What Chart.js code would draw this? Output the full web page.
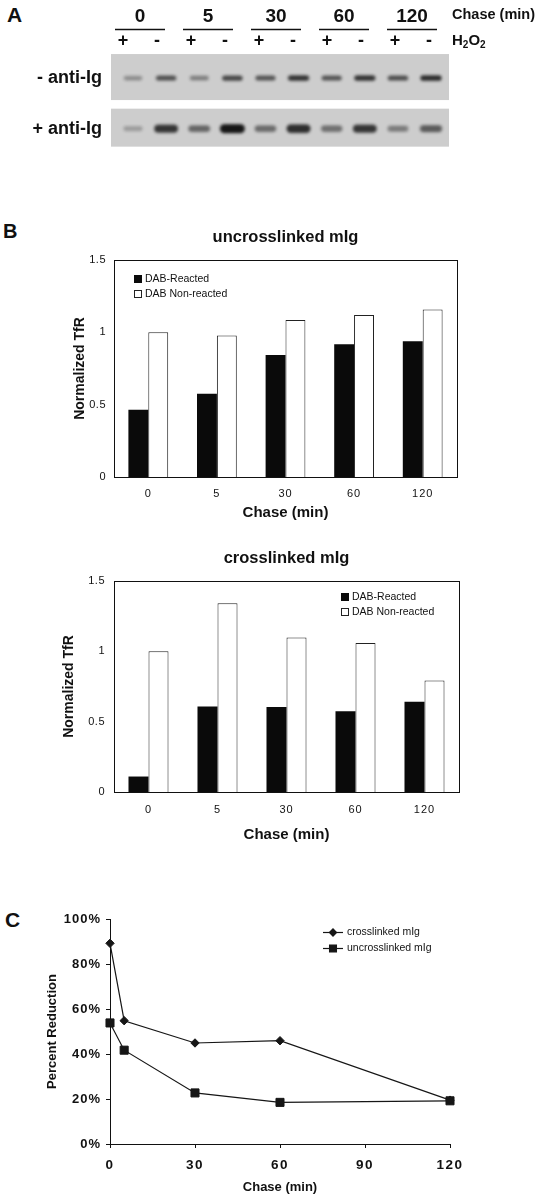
<!DOCTYPE html>
<html>
<head>
<meta charset="utf-8">
<script src="https://cdn.jsdelivr.net/npm/chart.js@4.4.1/dist/chart.umd.min.js"></script>
<style>
  html, body { margin: 0; padding: 0; background: #fff; }
  body { width: 541px; height: 1199px; position: relative; overflow: hidden;
         font-family: "Liberation Sans", Arial, sans-serif; color: #111; }
  .panel { position: absolute; left: 0; width: 541px; }
  .letter { position: absolute; font-weight: bold; line-height: 1; }
</style>
</head>
<body>
<div class="letter" style="left:7px;top:4px;font-size:21px">A</div>
<div class="letter" style="left:3px;top:221px;font-size:20px">B</div>
<div class="letter" style="left:5px;top:909px;font-size:21px">C</div>
<div class="panel" style="top:0;height:165px"><canvas id="gel"></canvas></div>
<div class="panel" style="top:215px;height:310px"><canvas id="uncross"></canvas></div>
<div class="panel" style="top:535px;height:315px"><canvas id="cross"></canvas></div>
<div class="panel" style="top:860px;height:339px"><canvas id="reduction"></canvas></div>
<script>
// --- panel A: blot lanes
const chaseGroups = ['0', '5', '30', '60', '120'];
const h2o2Signs = ['+', '-', '+', '-', '+', '-', '+', '-', '+', '-'];
const gelRows = ['- anti-Ig', '+ anti-Ig'];
const bandsMinusAntiIg = [0.3, 0.65, 0.38, 0.7, 0.62, 0.82, 0.62, 0.82, 0.66, 0.86];
const bandsPlusAntiIg = [0.18, 0.82, 0.52, 1.0, 0.48, 0.86, 0.46, 0.82, 0.38, 0.58];

// --- panel B: normalized TfR
const chaseLabels = ['0', '5', '30', '60', '120'];
const uncrossReacted = [0.465, 0.575, 0.844, 0.918, 0.939];
const uncrossNonReacted = [1.0, 0.978, 1.086, 1.12, 1.157];
const crossReacted = [0.11, 0.608, 0.605, 0.574, 0.641];
const crossNonReacted = [1.0, 1.341, 1.099, 1.059, 0.793];
const tfrTicks = [0, 0.5, 1, 1.5];

// --- panel C: percent reduction
const chaseMinutes = [0, 5, 30, 60, 120];
const reductionCross = [89.2, 54.8, 44.9, 45.9, 19.5];
const reductionUncross = [53.8, 41.7, 22.7, 18.5, 19.2];
const minuteTicks = [0, 30, 60, 90, 120];
const percentTicks = [0, 20, 40, 60, 80, 100];

const INK = '#111';
const FONT = '"Liberation Sans", Arial, sans-serif';

Chart.defaults.font.family = FONT;
Chart.defaults.color = INK;
Chart.defaults.animation = false;
Chart.defaults.plugins.legend.display = false;
Chart.defaults.plugins.tooltip.enabled = false;

// scales whose tick labels can be letter-spaced
function spacedScale(Base, id) {
  class Spaced extends Base {
    drawLabels(area) {
      const ls = this.options.ticks.letterSpacing;
      this.ctx.save();
      if (ls) this.ctx.letterSpacing = ls;
      super.drawLabels(area);
      this.ctx.restore();
    }
  }
  Spaced.id = id;
  Spaced.defaults = Base.defaults;
  Chart.register(Spaced);
}
spacedScale(Chart.LinearScale, 'spacedLinear');
spacedScale(Chart.CategoryScale, 'spacedCategory');

const fixedTicks = list => scale => { scale.ticks = list.map(v => ({ value: v })); };

// ---------- A: blot ----------
const bandCache = {};
function bandImage(d, row) {
  const key = d + '_' + row;
  if (bandCache[key]) return bandCache[key];
  const w = row ? 18 + 7 * d : 17 + 5 * d;
  const h = row ? 4 + 5 * d : 3.5 + 2.5 * d;
  const c = document.createElement('canvas');
  c.width = Math.ceil(w + 12);
  c.height = Math.ceil(h + 12);
  const g = c.getContext('2d');
  g.filter = 'blur(1.5px)';
  g.fillStyle = 'rgba(12,12,12,' + (0.1 + 0.85 * d) + ')';
  g.beginPath();
  g.roundRect((c.width - w) / 2, (c.height - h) / 2, w, h, h / 2);
  g.fill();
  bandCache[key] = c;
  return c;
}

const gelBackground = {
  id: 'gelBackground',
  beforeDatasetsDraw(chart, args, opts) {
    const { ctx, chartArea, scales } = chart;
    ctx.save();
    ctx.fillStyle = opts.color;
    opts.rows.forEach((r, i) => {
      const yc = scales.y.getPixelForValue(i);
      ctx.fillRect(chartArea.left, yc - r[0], chartArea.right - chartArea.left, r[0] + r[1]);
    });
    ctx.restore();
  }
};

const gelHeader = {
  id: 'gelHeader',
  afterDraw(chart) {
    const { ctx } = chart;
    const lanes = chart.scales.lanes;
    ctx.save();
    ctx.fillStyle = INK;
    ctx.strokeStyle = INK;
    ctx.textBaseline = 'middle';
    ctx.textAlign = 'center';
    ctx.font = 'bold 19px ' + FONT;
    chaseGroups.forEach((g, i) => {
      const xc = (lanes.getPixelForValue(2 * i) + lanes.getPixelForValue(2 * i + 1)) / 2;
      ctx.fillText(g, xc, 17);
      ctx.lineWidth = 1.6;
      ctx.beginPath();
      ctx.moveTo(xc - 25, 29.5);
      ctx.lineTo(xc + 25, 29.5);
      ctx.stroke();
    });
    ctx.textAlign = 'left';
    ctx.font = 'bold 14.5px ' + FONT;
    ctx.fillText('Chase (min)', 452, 15);
    let x = 452;
    [['H', 15, 0], ['2', 10, 4], ['O', 15, 0], ['2', 10, 4]].forEach(([t, s, dy]) => {
      ctx.font = 'bold ' + s + 'px ' + FONT;
      ctx.fillText(t, x, 41 + dy);
      x += ctx.measureText(t).width;
    });
    ctx.restore();
  }
};

const laneIndex = h2o2Signs.map((_, i) => i);
new Chart(document.getElementById('gel'), {
  type: 'scatter',
  data: {
    datasets: [
      { label: gelRows[0], data: laneIndex.map(i => ({ x: i, y: 0 })),
        pointStyle: c => bandImage(bandsMinusAntiIg[c.dataIndex], 0), pointRadius: 3 },
      { label: gelRows[1], data: laneIndex.map(i => ({ x: i, y: 1 })),
        pointStyle: c => bandImage(bandsPlusAntiIg[c.dataIndex], 1), pointRadius: 3 }
    ]
  },
  options: {
    responsive: true,
    maintainAspectRatio: false,
    layout: { padding: { top: 0, left: 0, right: 92, bottom: 12 } },
    plugins: { gelBackground: { color: '#cdcdcd', rows: [[24, 22], [20, 18]] } },
    scales: {
      x: { display: false, min: -0.664, max: 9.544 },
      lanes: {
        type: 'linear', position: 'top', min: -0.353, max: 9.588,
        afterBuildTicks: fixedTicks(laneIndex),
        grid: { display: false, drawTicks: false }, border: { display: false },
        ticks: { callback: v => h2o2Signs[v], font: { size: 18, weight: 'bold' }, padding: 4, autoSkip: false },
        afterFit: s => { s.height = 56; }
      },
      y: {
        min: -0.436, max: 1.327, reverse: true,
        afterBuildTicks: fixedTicks([0, 1]),
        grid: { display: false, drawTicks: false }, border: { display: false },
        ticks: { callback: v => gelRows[v], font: { size: 18, weight: 'bold' }, padding: 9 },
        afterFit: s => { s.width = 111; }
      }
    }
  },
  plugins: [gelBackground, gelHeader]
});

// ---------- B: bar charts ----------
const frame = {
  id: 'frame',
  afterDatasetsDraw(chart) {
    const { ctx, chartArea: a } = chart;
    ctx.save();
    ctx.strokeStyle = INK;
    ctx.lineWidth = 1;
    ctx.strokeRect(Math.round(a.left) + 0.5, Math.round(a.top) + 0.5,
      Math.round(a.right - a.left), Math.round(a.bottom - a.top));
    ctx.restore();
  }
};

const boxLegend = {
  id: 'boxLegend',
  afterDraw(chart, args, opts) {
    const { ctx, chartArea } = chart;
    ctx.save();
    ctx.font = '10.5px ' + FONT;
    ctx.textBaseline = 'middle';
    chart.data.datasets.forEach((ds, i) => {
      const x = Math.round(chartArea.left + opts.x);
      const y = Math.round(chartArea.top + opts.y + i * 15);
      ctx.fillStyle = ds.backgroundColor;
      ctx.fillRect(x, y - 4, 8, 8);
      if (ds.borderWidth) {
        ctx.strokeStyle = ds.borderColor;
        ctx.lineWidth = 1;
        ctx.strokeRect(x + 0.5, y - 3.5, 7, 7);
      }
      ctx.fillStyle = INK;
      ctx.fillText(ds.label, x + 11, y + 0.5);
    });
    ctx.restore();
  }
};

function tfrChart(id, title, reacted, nonReacted, L) {
  return new Chart(document.getElementById(id), {
    type: 'bar',
    data: {
      labels: chaseLabels,
      datasets: [
        { label: 'DAB-Reacted', data: reacted, backgroundColor: '#0a0a0a', borderColor: '#0a0a0a', borderWidth: 0 },
        { label: 'DAB Non-reacted', data: nonReacted, backgroundColor: '#ffffff', borderColor: '#222', borderWidth: 1 }
      ]
    },
    options: {
      responsive: true,
      maintainAspectRatio: false,
      layout: { padding: { top: 0, left: 0, right: L.right, bottom: 0 } },
      datasets: { bar: { categoryPercentage: 0.58, barPercentage: 1 } },
      plugins: {
        title: {
          display: true, text: title, fullSize: false, color: INK,
          font: { size: 16.5, weight: 'bold', lineHeight: 1.2 },
          padding: { top: L.titleTop, bottom: L.titleBottom }
        },
        boxLegend: { x: L.legX, y: L.legY }
      },
      scales: {
        x: {
          type: 'spacedCategory',
          grid: { display: false, drawTicks: false },
          border: { color: INK, width: 1 },
          ticks: { font: { size: 11 }, padding: L.xPad, letterSpacing: '1px' },
          title: { display: true, text: 'Chase (min)', font: { size: 15, weight: 'bold', lineHeight: 1.2 },
                   padding: { top: 0, bottom: L.xTitleBottom } },
          afterFit: s => { s.height = L.xHeight; }
        },
        y: {
          type: 'spacedLinear',
          min: 0, max: 1.5,
          afterBuildTicks: fixedTicks(tfrTicks),
          grid: { display: false, drawTicks: false },
          border: { color: INK, width: 1 },
          ticks: { font: { size: 11 }, padding: L.yPad, letterSpacing: '0.5px', callback: v => String(v) },
          title: { display: true, text: 'Normalized TfR', font: { size: 14, weight: 'bold', lineHeight: 1.2 },
                   padding: { top: L.yTitleLeft, bottom: 0 } },
          afterFit: s => { s.width = 114; }
        }
      }
    },
    plugins: [frame, boxLegend]
  });
}

tfrChart('uncross', 'uncrosslinked mIg', uncrossReacted, uncrossNonReacted, {
  right: 84, titleTop: 12.1, titleBottom: 13.1, xHeight: 48, xPad: 10.4, xTitleBottom: 3,
  yPad: 8, yTitleLeft: 71.6, legX: 20, legY: 19
});
tfrChart('cross', 'crosslinked mIg', crossReacted, crossNonReacted, {
  right: 82, titleTop: 13.1, titleBottom: 13.1, xHeight: 58, xPad: 11.4, xTitleBottom: 6,
  yPad: 9, yTitleLeft: 60.6, legX: 227, legY: 16
});

// ---------- C: line chart ----------
const lineLegend = {
  id: 'lineLegend',
  afterDraw(chart, args, opts) {
    const { ctx, chartArea } = chart;
    ctx.save();
    ctx.font = '10.5px ' + FONT;
    ctx.textBaseline = 'middle';
    chart.data.datasets.forEach((ds, i) => {
      const x = chartArea.left + opts.x;
      const y = Math.round(chartArea.top + opts.y + i * opts.gap) + 0.5;
      ctx.strokeStyle = ds.borderColor;
      ctx.fillStyle = ds.borderColor;
      ctx.lineWidth = ds.borderWidth;
      ctx.beginPath();
      ctx.moveTo(x, y);
      ctx.lineTo(x + 20, y);
      ctx.stroke();
      Chart.helpers.drawPoint(ctx, { pointStyle: ds.pointStyle, radius: ds.pointRadius * 0.85, borderWidth: 1 }, x + 10, y);
      ctx.fillStyle = INK;
      ctx.fillText(ds.label, x + 24, y);
    });
    ctx.restore();
  }
};

const axisC = {
  grid: { drawOnChartArea: false, drawTicks: true, tickLength: 4, color: INK, lineWidth: 1 },
  border: { color: INK, width: 1 }
};

new Chart(document.getElementById('reduction'), {
  type: 'line',
  data: {
    datasets: [
      { label: 'crosslinked mIg', data: chaseMinutes.map((m, i) => ({ x: m, y: reductionCross[i] })),
        borderColor: '#161616', backgroundColor: '#161616', borderWidth: 1.2, clip: false,
        pointStyle: 'rectRot', pointRadius: 4.2, pointBorderWidth: 1 },
      { label: 'uncrosslinked mIg', data: chaseMinutes.map((m, i) => ({ x: m, y: reductionUncross[i] })),
        borderColor: '#161616', backgroundColor: '#161616', borderWidth: 1.2, clip: false,
        pointStyle: 'rect', pointRadius: 5.7, pointBorderWidth: 1 }
    ]
  },
  options: {
    responsive: true,
    maintainAspectRatio: false,
    layout: { padding: { top: 59, left: 0, right: 91, bottom: 0 } },
    elements: { line: { tension: 0 } },
    plugins: { lineLegend: { x: 213, y: 13, gap: 16 } },
    scales: {
      x: {
        ...axisC,
        type: 'spacedLinear', min: 0, max: 120,
        afterBuildTicks: fixedTicks(minuteTicks),
        ticks: { font: { size: 13.5, weight: 'bold' }, padding: 9.5, letterSpacing: '1.5px' },
        title: { display: true, text: 'Chase (min)', font: { size: 13, weight: 'bold', lineHeight: 1.2 },
                 padding: { top: 0, bottom: 4.2 } },
        afterFit: s => { s.height = 55; }
      },
      y: {
        ...axisC,
        type: 'spacedLinear', min: 0, max: 100,
        afterBuildTicks: fixedTicks(percentTicks),
        ticks: { font: { size: 13, weight: 'bold' }, padding: 5, letterSpacing: '1px', callback: v => v + '%' },
        title: { display: true, text: 'Percent Reduction', font: { size: 13, weight: 'bold', lineHeight: 1.2 },
                 padding: { top: 44.2, bottom: 0 } },
        afterFit: s => { s.width = 110; }
      }
    }
  },
  plugins: [lineLegend]
});
</script>
</body>
</html>
